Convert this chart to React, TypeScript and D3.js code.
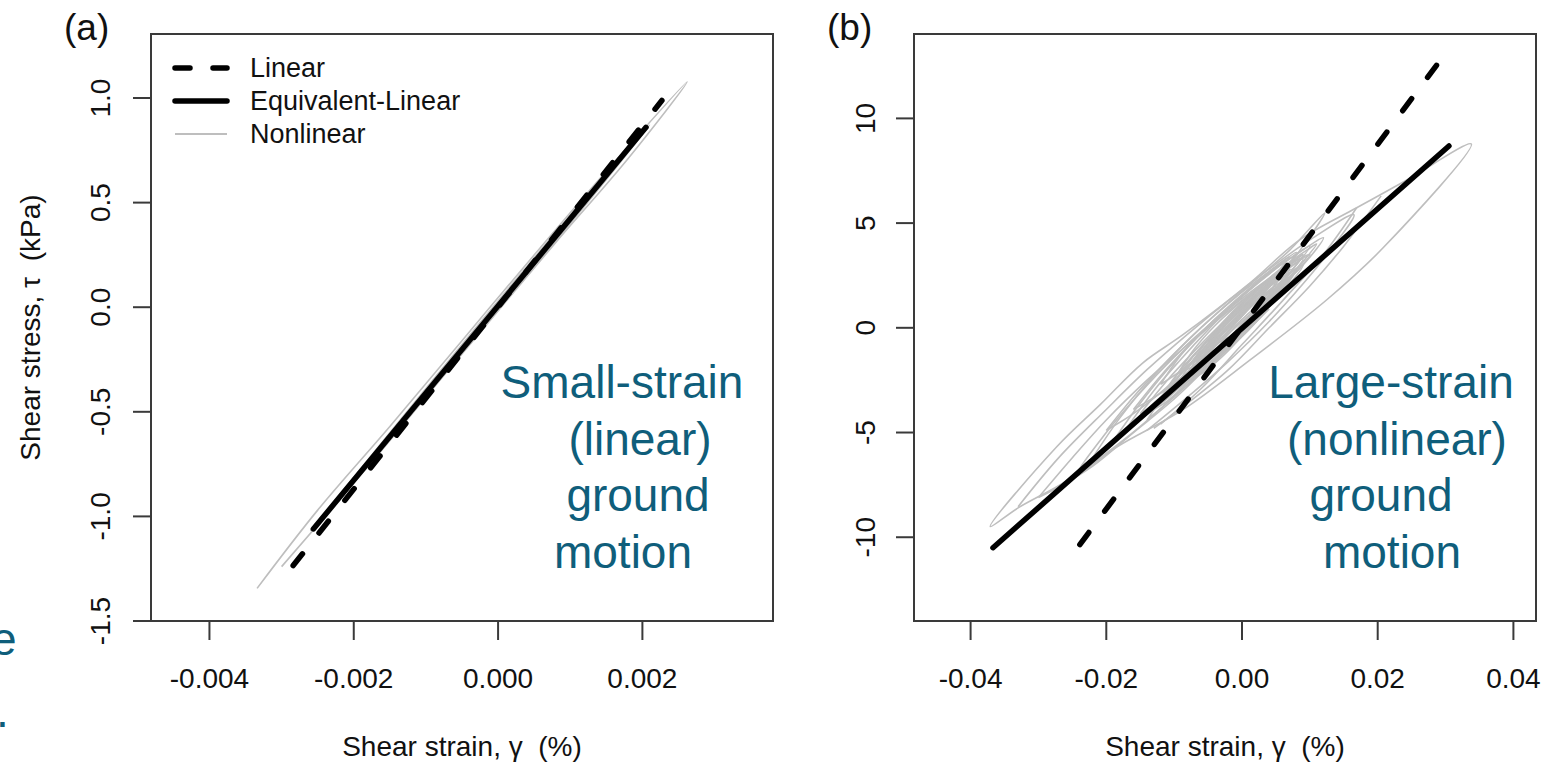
import React from 'react';
import * as d3 from 'd3';

const W = 1557;
const H = 763;
const FONT = '"Liberation Sans", Arial, Helvetica, sans-serif';
const TEAL = '#0f5e7b';
const GREY = '#bebebe';

type Pt = [number, number];

// ---- Panel (a): small-strain ground motion ----
const xTicksA = [-0.004, -0.002, 0, 0.002];
const xTickLabelsA = ['-0.004', '-0.002', '0.000', '0.002'];
const yTicksA = [-1.5, -1.0, -0.5, 0, 0.5, 1.0];
const yTickLabelsA = ['-1.5', '-1.0', '-0.5', '0.0', '0.5', '1.0'];

const linearA: Pt[] = [[-0.00284, -1.235], [0.00227, 0.988]];
const eqLinearA: Pt[] = [[-0.00256, -1.06], [0.00205, 0.86]];
const nonlinearA: Pt[][] = [
  [[-0.00334, -1.344], [-0.0025, -0.97], [-0.0015, -0.57], [-0.0005, -0.16], [0.0005, 0.25], [0.0015, 0.65],
   [0.00262, 1.077], [0.0018, 0.71], [0.0008, 0.31], [-0.0002, -0.1], [-0.0012, -0.51], [-0.0022, -0.92], [-0.003, -1.24]],
  [[-0.0026, -1.07], [-0.0015, -0.6], [0, 0.03], [0.0015, 0.64], [0.0021, 0.87], [0.001, 0.4], [-0.0005, -0.22],
   [-0.0018, -0.76], [-0.0026, -1.07]],
];

// ---- Panel (b): large-strain ground motion ----
const xTicksB = [-0.04, -0.02, 0, 0.02, 0.04];
const xTickLabelsB = ['-0.04', '-0.02', '0.00', '0.02', '0.04'];
const yTicksB = [-10, -5, 0, 5, 10];
const yTickLabelsB = ['-10', '-5', '0', '5', '10'];

const linearB: Pt[] = [[-0.0239, -10.35], [0.0287, 12.55]];
const eqLinearB: Pt[] = [[-0.0367, -10.5], [0.0305, 8.68]];
const nonlinearB: Pt[][] = [
  // outer cycle
  [[0.004, 0.9], [-0.002, -1.0], [-0.008, -2.7], [-0.0161, -5.0], [-0.0258, -7.3], [-0.033, -8.6], [-0.0371, -9.49],
   [-0.0273, -5.68], [-0.0209, -3.67], [-0.0146, -1.67], [-0.0087, -0.33], [0.0012, 2.15], [0.0085, 4.2],
   [0.0169, 5.73], [0.0243, 7.06], [0.0338, 8.78], [0.0208, 3.82], [0.0125, 1.34], [0.0012, -1.53],
   [-0.0087, -3.91], [-0.0184, -5.68], [-0.0243, -7.01], [-0.02, -5.0], [-0.015, -3.1], [-0.01, -1.4],
   [-0.005, 0.1], [0, 1.4], [0.005, 2.6], [0.009, 3.5]],
  [[-0.033, -8.54], [-0.027, -6.2], [-0.02, -3.9], [-0.014, -2.0], [-0.008, -0.3], [-0.002, 1.3], [0.004, 2.8],
   [0.01, 4.2], [0.0165, 5.4], [0.013, 3.7], [0.009, 2.1], [0.004, 0.3], [-0.002, -1.6], [-0.008, -3.3], [-0.014, -4.9]],
  [[-0.03, -8.1], [-0.025, -6.2], [-0.02, -4.4], [-0.014, -2.5], [-0.008, -0.8], [-0.002, 0.8], [0.004, 2.3],
   [0.009, 3.5], [0.006, 2.2], [0.002, 0.6], [-0.004, -1.5], [-0.01, -3.4], [-0.016, -5.0], [-0.022, -6.6],
   [-0.027, -7.6], [-0.03, -8.1]],
  [[0.0205, 6.3], [0.015, 3.9], [0.01, 2.0], [0.004, 0.0], [-0.002, -2.0], [-0.008, -3.6], [-0.013, -4.8]],
  [[0.0169, 5.73], [0.012, 3.5], [0.006, 1.3], [0, -0.8], [-0.006, -2.9], [-0.012, -4.6]],
  [[-0.022, -6.2], [-0.018, -4.3], [-0.013, -2.3], [-0.008, -0.6], [-0.003, 0.9], [0.002, 2.3], [0.007, 3.7],
   [0.0122, 5.49], [0.009, 3.9], [0.005, 2.3], [0, 0.6], [-0.005, -1.2], [-0.01, -2.9], [-0.015, -4.4], [-0.022, -6.2]],
  [[-0.02, -4.9], [-0.016, -3.3], [-0.012, -1.9], [-0.008, -0.6], [-0.004, 0.6], [0, 1.7], [0.004, 2.7], [0.007, 3.4],
   [0.004, 2.2], [0, 0.8], [-0.004, -0.6], [-0.008, -1.9], [-0.012, -3.1], [-0.016, -4.1], [-0.02, -4.9]],
  [[-0.019, -5.4], [-0.015, -3.6], [-0.011, -2.0], [-0.007, -0.6], [-0.003, 0.6], [0.001, 1.8], [0.005, 2.9],
   [0.008, 3.6], [0.005, 2.3], [0.001, 0.9], [-0.003, -0.5], [-0.007, -1.8], [-0.011, -3.0], [-0.015, -4.2], [-0.019, -5.4]],
  [[-0.017, -4.8], [-0.013, -3.0], [-0.009, -1.5], [-0.005, -0.1], [-0.001, 1.2], [0.003, 2.3], [0.007, 3.3], [0.01, 3.9],
   [0.007, 2.6], [0.003, 1.2], [-0.001, -0.2], [-0.005, -1.5], [-0.009, -2.8], [-0.013, -3.9], [-0.017, -4.8]],
  [[-0.016, -3.9], [-0.012, -2.3], [-0.008, -0.9], [-0.004, 0.4], [0, 1.5], [0.004, 2.6], [0.008, 3.5], [0.012, 4.3],
   [0.009, 3.0], [0.005, 1.8], [0.001, 0.6], [-0.003, -0.6], [-0.007, -1.8], [-0.011, -2.9], [-0.016, -3.9]],
  [[-0.015, -4.1], [-0.011, -2.5], [-0.007, -1.1], [-0.003, 0.2], [0.001, 1.4], [0.005, 2.5], [0.0085, 3.3],
   [0.006, 2.2], [0.002, 0.8], [-0.002, -0.6], [-0.006, -1.9], [-0.01, -3.0], [-0.015, -4.1]],
  [[-0.014, -4.4], [-0.01, -2.6], [-0.006, -1.1], [-0.002, 0.3], [0.002, 1.5], [0.006, 2.6], [0.009, 3.3], [0.006, 2.0],
   [0.002, 0.6], [-0.002, -0.8], [-0.006, -2.1], [-0.01, -3.3], [-0.014, -4.4]],
  [[-0.013, -3.9], [-0.01, -2.4], [-0.006, -0.9], [-0.002, 0.5], [0.002, 1.8], [0.006, 2.9], [0.0095, 3.7], [0.011, 4.0],
   [0.008, 2.8], [0.004, 1.4], [0, 0], [-0.004, -1.3], [-0.008, -2.6], [-0.011, -3.5], [-0.013, -3.9]],
  [[-0.012, -3.4], [-0.009, -2.0], [-0.005, -0.6], [-0.001, 0.7], [0.003, 1.9], [0.007, 2.9], [0.0095, 3.4],
   [0.007, 2.4], [0.003, 1.0], [-0.001, -0.4], [-0.005, -1.6], [-0.009, -2.6], [-0.012, -3.4]],
  [[-0.011, -3.1], [-0.008, -1.7], [-0.004, -0.2], [0, 1.1], [0.004, 2.3], [0.008, 3.2], [0.01, 3.5], [0.007, 2.3],
   [0.003, 0.9], [-0.001, -0.5], [-0.005, -1.8], [-0.009, -2.8], [-0.011, -3.1]],
  [[-0.012, -2.7], [-0.009, -1.3], [-0.005, 0.1], [-0.001, 1.3], [0.003, 2.4], [0.0065, 3.2], [0.004, 2.0], [0, 0.7],
   [-0.004, -0.6], [-0.008, -1.8], [-0.012, -2.7]],
  [[-0.01, -3.0], [-0.007, -1.8], [-0.004, -0.7], [-0.001, 0.3], [0.002, 1.2], [0.005, 1.9], [0.003, 0.9], [0, -0.2],
   [-0.003, -1.2], [-0.006, -2.1], [-0.01, -3.0]],
  [[-0.0095, -2.2], [-0.007, -1.0], [-0.004, 0.1], [-0.001, 1.0], [0.002, 1.8], [0.005, 2.5], [0.007, 2.9],
   [0.005, 1.9], [0.002, 0.8], [-0.001, -0.3], [-0.004, -1.2], [-0.007, -1.8], [-0.0095, -2.2]],
  [[-0.0085, -2.6], [-0.006, -1.3], [-0.003, -0.1], [0, 0.9], [0.003, 1.8], [0.0065, 2.5], [0.008, 2.8], [0.006, 1.8],
   [0.003, 0.7], [0, -0.4], [-0.003, -1.4], [-0.006, -2.2], [-0.0085, -2.6]],
  [[-0.009, -2.4], [-0.006, -1.0], [-0.003, 0.2], [0, 1.2], [0.003, 2.0], [0.006, 2.7], [0.004, 1.6], [0.001, 0.4],
   [-0.002, -0.8], [-0.005, -1.7], [-0.009, -2.4]],
  [[-0.008, -2.4], [-0.005, -1.1], [-0.002, 0.0], [0.001, 1.0], [0.004, 1.8], [0.007, 2.4], [0.005, 1.5], [0.002, 0.4],
   [-0.001, -0.6], [-0.004, -1.6], [-0.008, -2.4]],
  [[-0.0075, -1.9], [-0.005, -0.7], [-0.002, 0.4], [0.001, 1.3], [0.004, 2.1], [0.0075, 2.8], [0.005, 1.8],
   [0.002, 0.7], [-0.001, -0.3], [-0.004, -1.2], [-0.0075, -1.9]],
  [[-0.0065, -2.0], [-0.0045, -1.0], [-0.002, 0.1], [0.001, 1.1], [0.004, 1.7], [0.006, 2.0], [0.004, 1.0], [0.001, -0.1],
   [-0.002, -1.0], [-0.0045, -1.7], [-0.0065, -2.0]],
  [[-0.006, -1.4], [-0.003, -0.2], [0, 0.8], [0.003, 1.7], [0.006, 2.4], [0.009, 3.0], [0.007, 2.1], [0.004, 1.1],
   [0.001, 0.1], [-0.002, -0.8], [-0.006, -1.4]],
  [[-0.007, -1.6], [-0.004, -0.4], [-0.001, 0.6], [0.002, 1.5], [0.005, 2.2], [0.003, 1.3], [0, 0.2], [-0.003, -0.8],
   [-0.007, -1.6]],
  [[-0.005, -0.9], [-0.002, 0.3], [0.001, 1.3], [0.004, 2.1], [0.007, 2.8], [0.005, 1.8], [0.002, 0.7], [-0.001, -0.3],
   [-0.005, -0.9]],
  [[-0.004, -1.2], [-0.002, -0.3], [0, 0.4], [0.002, 0.95], [0.004, 1.2], [0.002, 0.3], [0, -0.4], [-0.002, -0.95],
   [-0.004, -1.2]],
  [[-0.003, -0.6], [-0.001, 0.2], [0.001, 0.9], [0.003, 1.5], [0.005, 2.0], [0.003, 1.1], [0.001, 0.3], [-0.001, -0.3],
   [-0.003, -0.6]],
];

const legendLabels = ['Linear', 'Equivalent-Linear', 'Nonlinear'];
const noteA = ['Small-strain', '(linear)', 'ground', 'motion'];
const noteB = ['Large-strain', '(nonlinear)', 'ground', 'motion'];

interface PanelProps {
  id: string;
  left: number; right: number; top: number; bottom: number;
  xDomain: [number, number]; yDomain: [number, number];
  xTicks: number[]; xTickLabels: string[];
  yTicks: number[]; yTickLabels: string[];
  yLabelX: number;
  linear: Pt[]; eqLinear: Pt[]; nonlinear: Pt[][];
  tag: string; tagX: number;
  note: string[]; noteX: number[];
  legend?: boolean;
  yTitle?: boolean;
}

const NB = '\u00A0';

function Panel(p: PanelProps) {
  const x = d3.scaleLinear().domain(p.xDomain).range([p.left, p.right]);
  const y = d3.scaleLinear().domain(p.yDomain).range([p.bottom, p.top]);
  const straight = d3.line<Pt>().x(d => x(d[0])).y(d => y(d[1]));
  const smooth = d3.line<Pt>().x(d => x(d[0])).y(d => y(d[1])).curve(d3.curveCatmullRom.alpha(0.5));
  const cx = (p.left + p.right) / 2;
  const cy = (p.top + p.bottom) / 2;
  return (
    <g>
      <defs>
        <clipPath id={p.id}>
          <rect x={p.left} y={p.top} width={p.right - p.left} height={p.bottom - p.top} />
        </clipPath>
      </defs>
      <g clipPath={`url(#${p.id})`}>
        {p.nonlinear.map((c, i) => (
          <path key={i} d={smooth(c) || ''} fill="none" stroke={GREY} strokeWidth={1.6} strokeLinejoin="round" />
        ))}
        <path d={straight(p.eqLinear) || ''} fill="none" stroke="#000" strokeWidth={5.5} strokeLinecap="round" />
        <path d={straight(p.linear) || ''} fill="none" stroke="#000" strokeWidth={5.5} strokeLinecap="round"
          strokeDasharray="15 26.6" />
      </g>
      <rect x={p.left} y={p.top} width={p.right - p.left} height={p.bottom - p.top} fill="none"
        stroke="#3a3a3a" strokeWidth={2} />
      {p.xTicks.map((t, i) => (
        <g key={i}>
          <line x1={x(t)} x2={x(t)} y1={p.bottom} y2={p.bottom + 19} stroke="#3a3a3a" strokeWidth={2} />
          <text x={x(t)} y={688} textAnchor="middle" fontFamily={FONT} fontSize={28} fill="#111">{p.xTickLabels[i]}</text>
        </g>
      ))}
      {p.yTicks.map((t, i) => (
        <g key={i}>
          <line x1={p.left - 18} x2={p.left} y1={y(t)} y2={y(t)} stroke="#3a3a3a" strokeWidth={2} />
          <text transform={`translate(${p.yLabelX},${y(t)}) rotate(-90)`} textAnchor="middle" fontFamily={FONT}
            fontSize={28} fill="#111">{p.yTickLabels[i]}</text>
        </g>
      ))}
      <text x={cx} y={756} textAnchor="middle" fontFamily={FONT} fontSize={28} fill="#111">
        {`Shear strain, γ ${NB}(%)`}
      </text>
      {p.yTitle && (
        <text transform={`translate(40,${cy}) rotate(-90)`} textAnchor="middle" fontFamily={FONT} fontSize={28}
          fill="#111">{`Shear stress, τ ${NB}(kPa)`}</text>
      )}
      <text x={p.tagX} y={40} fontFamily={FONT} fontSize={37} fill="#111">{p.tag}</text>
      {p.legend && legendLabels.map((lab, i) => {
        const ly = 68 + i * 33;
        return (
          <g key={lab}>
            <line x1={175} x2={227} y1={ly} y2={ly}
              stroke={i === 2 ? GREY : '#000'} strokeWidth={i === 2 ? 2 : 5.5}
              strokeLinecap={i === 2 ? 'butt' : 'round'} strokeDasharray={i === 0 ? '15 23' : undefined} />
            <text x={250} y={ly} dominantBaseline="central" fontFamily={FONT} fontSize={27} fill="#111">{lab}</text>
          </g>
        );
      })}
      {p.note.map((s, i) => (
        <text key={i} x={p.noteX[i]} y={398 + i * 56.5} textAnchor="middle" fontFamily={FONT} fontSize={46}
          fill={TEAL}>{s}</text>
      ))}
    </g>
  );
}

export default function App() {
  return (
    <svg width={W} height={H} viewBox={`0 0 ${W} ${H}`}
      style={{ position: 'absolute', left: 0, top: 0, background: '#fff' }}>
      <rect x={0} y={0} width={W} height={H} fill="#fff" />
      <Panel id="clipA" left={151} right={773} top={34} bottom={621}
        xDomain={[-0.00481, 0.00381]} yDomain={[-1.5, 1.306]}
        xTicks={xTicksA} xTickLabels={xTickLabelsA} yTicks={yTicksA} yTickLabels={yTickLabelsA}
        yLabelX={110} linear={linearA} eqLinear={eqLinearA} nonlinear={nonlinearA}
        tag="(a)" tagX={64} note={noteA} noteX={[622, 640, 638, 623]} legend yTitle />
      <Panel id="clipB" left={914} right={1536} top={34} bottom={621}
        xDomain={[-0.04834, 0.04333]} yDomain={[-14, 14.03]}
        xTicks={xTicksB} xTickLabels={xTickLabelsB} yTicks={yTicksB} yTickLabels={yTickLabelsB}
        yLabelX={875} linear={linearB} eqLinear={eqLinearB} nonlinear={nonlinearB}
        tag="(b)" tagX={827} note={noteB} noteX={[1391, 1397, 1381, 1392]} />
      {/* slide text running in from the left edge */}
      <text x={-9} y={655} fontFamily={FONT} fontSize={46} fill={TEAL}>e</text>
      <text x={-4} y={727} fontFamily={FONT} fontSize={46} fill={TEAL}>.</text>
    </svg>
  );
}
